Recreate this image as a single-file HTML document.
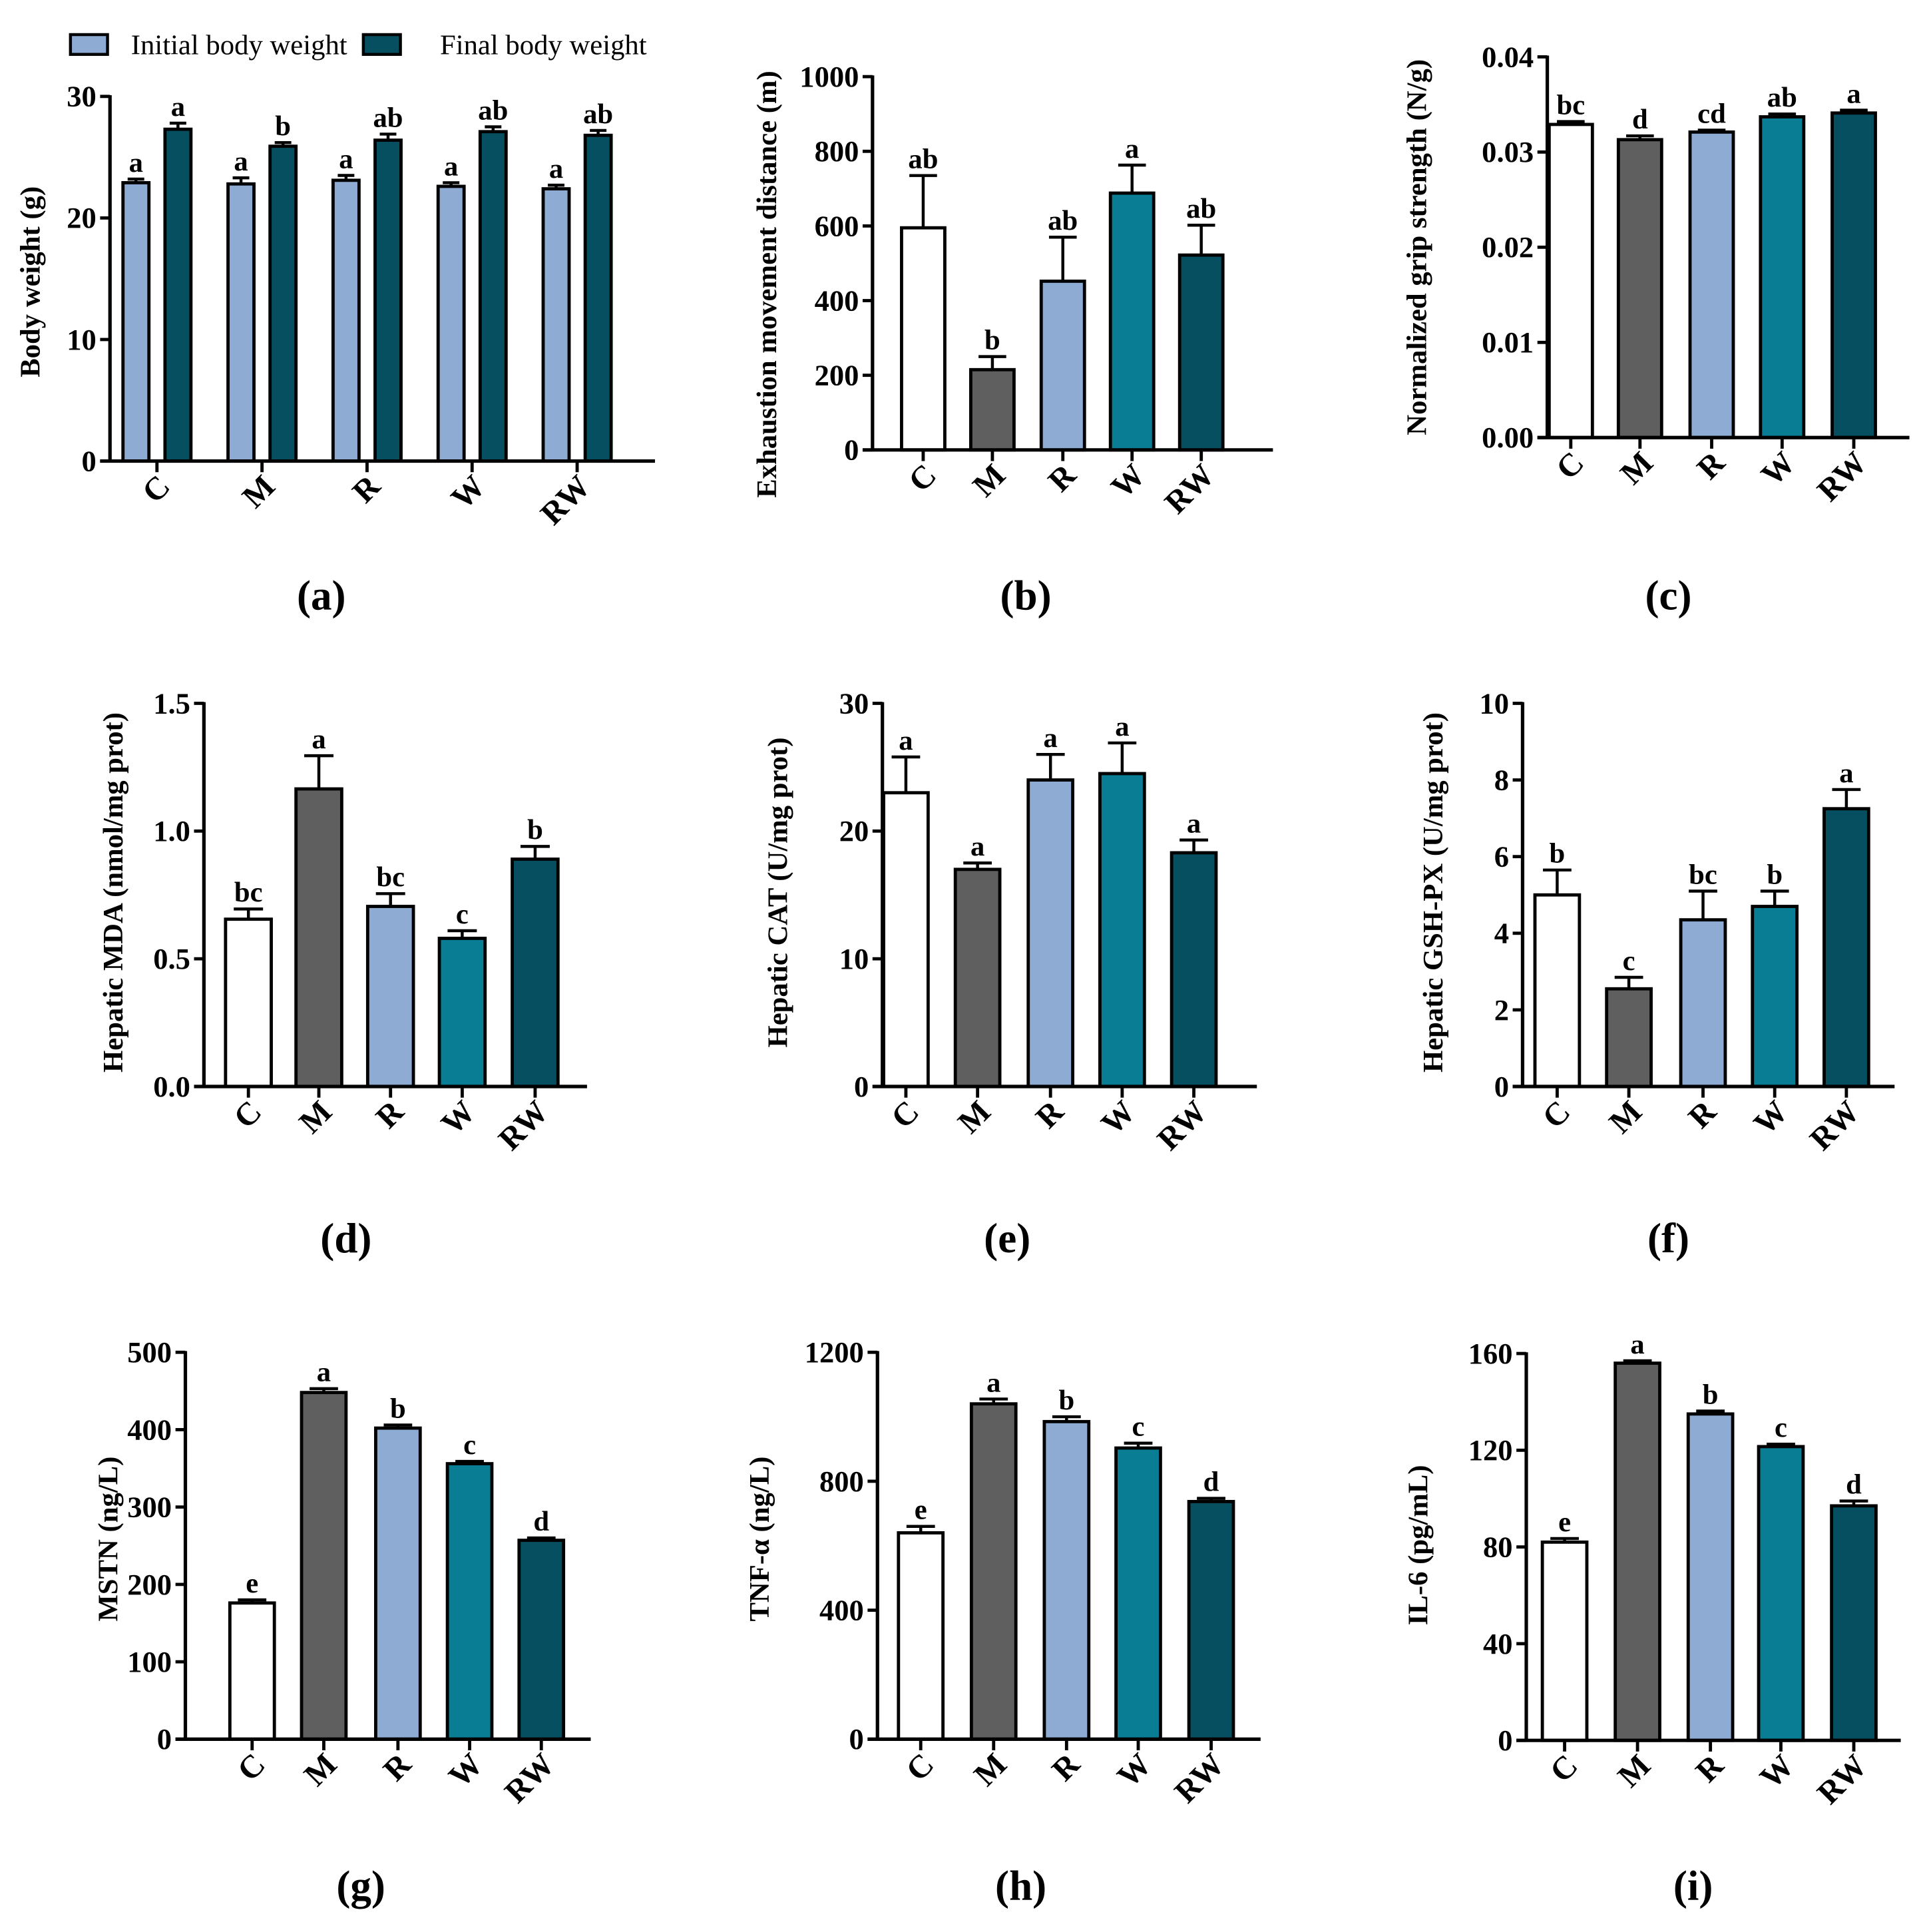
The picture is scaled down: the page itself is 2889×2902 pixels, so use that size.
<!DOCTYPE html>
<html><head><meta charset="utf-8"><style>
html,body{margin:0;padding:0;background:#fff;}
svg{display:block;}
text{font-family:"Liberation Serif",serif;}
</style></head><body>
<svg id="fig" width="2889" height="2902" viewBox="0 0 1556 1563" xmlns="http://www.w3.org/2000/svg"></svg>
<script>
const groups = ["C","M","R","W","RW"];
const colors = ["#ffffff","#5f5f5f","#8eabd4","#097d94","#064f60"];
// panel a
const aInitial = [22.9,22.8,23.1,22.6,22.4];
const aInitialErr = [0.3,0.5,0.4,0.3,0.3];
const aFinal = [27.3,25.9,26.4,27.1,26.8];
const aFinalErr = [0.5,0.3,0.5,0.4,0.4];
const aInitialLetters = ["a","a","a","a","a"];
const aFinalLetters = ["a","b","ab","ab","ab"];
const aTicks = [0,10,20,30];
// b
const bVals = [595,215,452,688,522];
const bErr = [140,35,118,75,80];
const bLetters = ["ab","b","ab","a","ab"];
const bTicks = [0,200,400,600,800,1000];
// c
const cVals = [0.0329,0.0313,0.0321,0.0337,0.0341];
const cErr = [0.0003,0.0004,0.0002,0.0003,0.0003];
const cLetters = ["bc","d","cd","ab","a"];
const cTicks = [0,0.01,0.02,0.03,0.04];
const cTickLabels = ["0.00","0.01","0.02","0.03","0.04"];
// d
const dVals = [0.655,1.165,0.705,0.58,0.89];
const dErr = [0.04,0.13,0.05,0.03,0.05];
const dLetters = ["bc","a","bc","c","b"];
const dTicks = [0,0.5,1.0,1.5];
const dTickLabels = ["0.0","0.5","1.0","1.5"];
// e
const eVals = [23,17,24,24.5,18.3];
const eErr = [2.8,0.5,2.0,2.4,1.0];
const eLetters = ["a","a","a","a","a"];
const eTicks = [0,10,20,30];
// f
const fVals = [5.0,2.55,4.35,4.7,7.25];
const fErr = [0.65,0.3,0.75,0.4,0.5];
const fLetters = ["b","c","bc","b","a"];
const fTicks = [0,2,4,6,8,10];
// g
const gVals = [176,448,402,356,257];
const gErr = [4,5,4,3,3];
const gLetters = ["e","a","b","c","d"];
const gTicks = [0,100,200,300,400,500];
// h
const hVals = [640,1040,985,903,737];
const hErr = [20,15,15,15,10];
const hLetters = ["e","a","b","c","d"];
const hTicks = [0,400,800,1200];
// i
const iVals = [82,156,135,121.5,97];
const iErr = [1.5,1,1.2,1,2];
const iLetters = ["e","a","b","c","d"];
const iTicks = [0,40,80,120,160];

const NS="http://www.w3.org/2000/svg";
const svg=document.getElementById('fig');
function mk(tag,attrs,parent){const e=document.createElementNS(NS,tag);for(const k in attrs)e.setAttribute(k,attrs[k]);(parent||svg).appendChild(e);return e;}

function panel(cfg){
  const g=mk('g',{});
  
  
  const y=v=>cfg.y0-(v-cfg.min)/(cfg.max-cfg.min)*(cfg.y0-cfg.yTop);
  cfg.ticks.forEach((t,i)=>{
    const ln=mk('line',{x1:cfg.ax-8,x2:cfg.ax,y1:y(t),y2:y(t),stroke:'#000','stroke-width':2.6},g);
    
    
    const tx=mk('text',{x:cfg.ax-11,y:y(t)+8,'text-anchor':'end','font-size':24,'font-weight':'bold'},g);
    tx.textContent=cfg.tickLabels?cfg.tickLabels[i]:String(t);
    
    
  });
  const yt=mk('text',{x:0,y:0,'text-anchor':'middle','font-size':23,'font-weight':'bold',transform:`translate(${cfg.titleX},${cfg.titleY}) rotate(-90)`},g);
  yt.textContent=cfg.title;
  
  
  cfg.series.forEach(s=>{
    s.vals.forEach((v,i)=>{
      const cx=cfg.centers[i]+(s.off||0);
      const w=cfg.bw;
      const top=y(v), et=y(v+s.err[i]);
      const el=mk('line',{x1:cx,x2:cx,y1:top,y2:et,stroke:'#000','stroke-width':2.4},g);
      
      
      const ec=mk('line',{x1:cx-w*0.32,x2:cx+w*0.32,y1:et,y2:et,stroke:'#000','stroke-width':2.4},g);
      
      
      const r=mk('rect',{x:cx-w/2,y:top,width:w,height:cfg.y0-top,fill:s.colors?s.colors[i]:s.color,stroke:'#000','stroke-width':2.6},g);
      
      
      const lt=mk('text',{x:cx,y:et-6,'text-anchor':'middle','font-size':23,'font-weight':'bold'},g);
      lt.textContent=s.letters[i];
      
      
    });
  });
  const ya=mk('line',{x1:cfg.ax,x2:cfg.ax,y1:cfg.yTop-1,y2:cfg.y0,stroke:'#000','stroke-width':2.8},g);
  
  
  const xa=mk('line',{x1:cfg.ax-8,x2:cfg.xEnd,y1:cfg.y0,y2:cfg.y0,stroke:'#000','stroke-width':2.8},g);
  
  
  groups.forEach((gr,i)=>{
    const cx=cfg.centers[i];
    const tk=mk('line',{x1:cx,x2:cx,y1:cfg.y0,y2:cfg.y0+9,stroke:'#000','stroke-width':2.6},g);
    
    
    const tx=mk('text',{x:0,y:0,'text-anchor':'end','font-size':26,'font-weight':'bold',transform:`translate(${cx+12},${cfg.y0+22}) rotate(-45)`},g);
    tx.textContent=gr;
    
    
  });
  const pl=mk('text',{x:cfg.capX,y:cfg.capY,'text-anchor':'middle','font-size':34,'font-weight':'bold'},g);
  pl.textContent=cfg.cap;
  
  
}

panel({name:'panel-a-body-weight',ax:89,yTop:78,y0:373,xEnd:530,min:0,max:30,ticks:aTicks,
  title:'Body weight (g)',titleX:32,titleY:228,centers:[127,212,297,382,467],bw:21,
  series:[{vals:aInitial,err:aInitialErr,letters:aInitialLetters,color:'#8eabd4',off:-17},
          {vals:aFinal,err:aFinalErr,letters:aFinalLetters,color:'#064f60',off:17}],
  cap:'(a)',capX:260,capY:493});
panel({name:'panel-b-exhaustion',ax:706,yTop:62,y0:364,xEnd:1030,min:0,max:1000,ticks:bTicks,
  title:'Exhaustion movement distance (m)',titleX:628,titleY:230,centers:[747,803,860,916,972],bw:35,
  series:[{vals:bVals,err:bErr,letters:bLetters,colors:colors}],cap:'(b)',capX:830,capY:493});
panel({name:'panel-c-grip',ax:1252,yTop:46,y0:354,xEnd:1545,min:0,max:0.04,ticks:cTicks,tickLabels:cTickLabels,
  title:'Normalized grip strength (N/g)',titleX:1154,titleY:200,centers:[1271,1327,1385,1442,1500],bw:35,
  series:[{vals:cVals,err:cErr,letters:cLetters,colors:colors}],cap:'(c)',capX:1350,capY:493});
panel({name:'panel-d-mda',ax:165,yTop:569,y0:879,xEnd:475,min:0,max:1.5,ticks:dTicks,tickLabels:dTickLabels,
  title:'Hepatic MDA (nmol/mg prot)',titleX:99,titleY:722,centers:[201,258,316,374,433],bw:37,
  series:[{vals:dVals,err:dErr,letters:dLetters,colors:colors}],cap:'(d)',capX:280,capY:1013});
panel({name:'panel-e-cat',ax:714,yTop:569,y0:879,xEnd:1017,min:0,max:30,ticks:eTicks,
  title:'Hepatic CAT (U/mg prot)',titleX:637,titleY:722,centers:[733,791,850,908,966],bw:36,
  series:[{vals:eVals,err:eErr,letters:eLetters,colors:colors}],cap:'(e)',capX:815,capY:1013});
panel({name:'panel-f-gshpx',ax:1232,yTop:569,y0:879,xEnd:1533,min:0,max:10,ticks:fTicks,
  title:'Hepatic GSH-PX (U/mg prot)',titleX:1167,titleY:722,centers:[1260,1318,1378,1436,1494],bw:36,
  series:[{vals:fVals,err:fErr,letters:fLetters,colors:colors}],cap:'(f)',capX:1350,capY:1013});
panel({name:'panel-g-mstn',ax:150,yTop:1094,y0:1407,xEnd:478,min:0,max:500,ticks:gTicks,
  title:'MSTN (ng/L)',titleX:95,titleY:1245,centers:[204,262,322,380,438],bw:36,
  series:[{vals:gVals,err:gErr,letters:gLetters,colors:colors}],cap:'(g)',capX:292,capY:1537});
panel({name:'panel-h-tnf',ax:710,yTop:1094,y0:1407,xEnd:1020,min:0,max:1200,ticks:hTicks,
  title:'TNF-α (ng/L)',titleX:622,titleY:1245,centers:[745,804,863,921,980],bw:36,
  series:[{vals:hVals,err:hErr,letters:hLetters,colors:colors}],cap:'(h)',capX:826,capY:1537});
panel({name:'panel-i-il6',ax:1235,yTop:1095,y0:1408,xEnd:1538,min:0,max:160,ticks:iTicks,
  title:'IL-6 (pg/mL)',titleX:1155,titleY:1250,centers:[1266,1325,1384,1441,1500],bw:36,
  series:[{vals:iVals,err:iErr,letters:iLetters,colors:colors}],cap:'(i)',capX:1370,capY:1537});

const lg=mk('g',{});


const l1=mk('rect',{x:57,y:28,width:30,height:16,fill:'#8eabd4',stroke:'#000','stroke-width':2.4},lg);


const t1=mk('text',{x:106,y:44,'font-size':23},lg);
t1.textContent='Initial body weight';


const l2=mk('rect',{x:294,y:28,width:30,height:16,fill:'#064f60',stroke:'#000','stroke-width':2.4},lg);


const t2=mk('text',{x:356,y:44,'font-size':23},lg);
t2.textContent='Final body weight';


</script>
</body></html>
